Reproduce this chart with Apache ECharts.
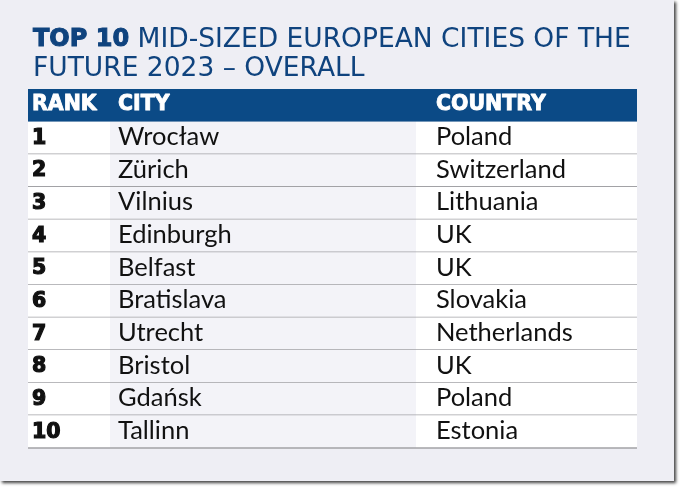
<!DOCTYPE html>
<html>
<head>
<meta charset="utf-8">
<script src="https://cdn.jsdelivr.net/npm/echarts@6/dist/echarts.min.js"></script>
<style>html,body{margin:0;padding:0;background:#fff}#c{width:680px;height:487px}</style>
</head>
<body>
<div id="c"></div>
<script>
// ---- data ----
const headers = ['RANK', 'CITY', 'COUNTRY'];
const ranks = ['1', '2', '3', '4', '5', '6', '7', '8', '9', '10'];
const cities = ['Wrocław', 'Zürich', 'Vilnius', 'Edinburgh', 'Belfast', 'Bratislava', 'Utrecht', 'Bristol', 'Gdańsk', 'Tallinn'];
const countries = ['Poland', 'Switzerland', 'Lithuania', 'UK', 'UK', 'Slovakia', 'Netherlands', 'UK', 'Poland', 'Estonia'];
const titleBold = 'TOP 10';
const titleLine1 = ' MID-SIZED EUROPEAN CITIES OF THE';
const titleLine2 = 'FUTURE 2023 – OVERALL';

// ---- layout (axis units along x) ----
const colEdges = [0, 82, 388, 609];
const textX = [4, 90, 408];

const rowKeys = ['header'].concat(ranks);
const rowsData = rowKeys.map((k, i) => [i]);

const BLUE = '#0b4a86';
const BODY = 'Lato, "Noto Sans", sans-serif';
const HEAVY = '"DejaVu Sans", sans-serif';

function renderItem(params, api) {
  const i = api.value(0);
  const c = api.coord([0, i]);
  const h = api.size([0, 1])[1];
  const yTop = c[1] - h / 2;
  const x = v => api.coord([v, i])[0];
  const children = [];
  if (i === 0) {
    children.push({type: 'rect', shape: {x: x(colEdges[0]), y: yTop, width: x(colEdges[3]) - x(colEdges[0]), height: h}, style: {fill: BLUE}});
    headers.forEach((t, j) => {
      children.push({type: 'text', style: {text: t, x: x(textX[j]), y: c[1] - 1, fill: '#fff', stroke: '#fff', lineWidth: 0.9, font: 'bold 20.5px ' + HEAVY, verticalAlign: 'middle'}});
    });
  } else {
    const fills = ['#ffffff', '#f3f3f8', '#ffffff'];
    for (let j = 0; j < 3; j++) {
      children.push({type: 'rect', shape: {x: x(colEdges[j]), y: yTop, width: x(colEdges[j + 1]) - x(colEdges[j]), height: h}, style: {fill: fills[j]}});
    }
    children.push({type: 'line', shape: {x1: x(colEdges[0]), y1: yTop + h, x2: x(colEdges[3]), y2: yTop + h}, style: {stroke: '#a2a2a6', lineWidth: 1.6}});
    const vals = [ranks[i - 1], cities[i - 1], countries[i - 1]];
    vals.forEach((t, j) => {
      const st = {text: t, x: x(textX[j]), y: c[1] + (j === 0 ? 0.5 : -1), fill: '#111', verticalAlign: 'middle'};
      if (j === 0) { st.font = 'bold 20.5px ' + HEAVY; st.stroke = '#111'; st.lineWidth = 1.2; }
      else { st.font = '400 25.5px ' + BODY; }
      children.push({type: 'text', style: st});
    });
  }
  return {type: 'group', children: children};
}

const chart = echarts.init(document.getElementById('c'), null, {renderer: 'canvas'});
chart.setOption({
  backgroundColor: '#ffffff',
  animation: false,
  graphic: [{
    type: 'rect', left: 0, top: 0, z: -10,
    shape: {width: 674, height: 481},
    style: {fill: '#eeeef4', shadowColor: 'rgba(0,0,0,0.75)', shadowBlur: 3, shadowOffsetX: 2, shadowOffsetY: 2}
  }],
  title: {
    left: 28, top: 20,
    text: '{b|' + titleBold + '}{r|' + titleLine1 + '}\n{r|' + titleLine2 + '}',
    textStyle: {
      rich: {
        b: {fontFamily: HEAVY, fontWeight: 'bold', fontSize: 24, color: '#0f437e', lineHeight: 29.5, textBorderColor: '#0f437e', textBorderWidth: 1},
        r: {fontFamily: HEAVY, fontWeight: 'normal', fontSize: 26.5, color: '#0f437e', lineHeight: 29.5}
      }
    }
  },
  grid: {left: 28, right: 43, top: 89, bottom: 39},
  xAxis: {type: 'value', min: colEdges[0], max: colEdges[3], show: false},
  yAxis: {type: 'category', data: rowKeys, inverse: true, show: false},
  series: [{
    type: 'custom',
    renderItem: renderItem,
    data: rowsData,
    encode: {x: -1, y: 0},
    clip: false
  }]
});
</script>
</body>
</html>
